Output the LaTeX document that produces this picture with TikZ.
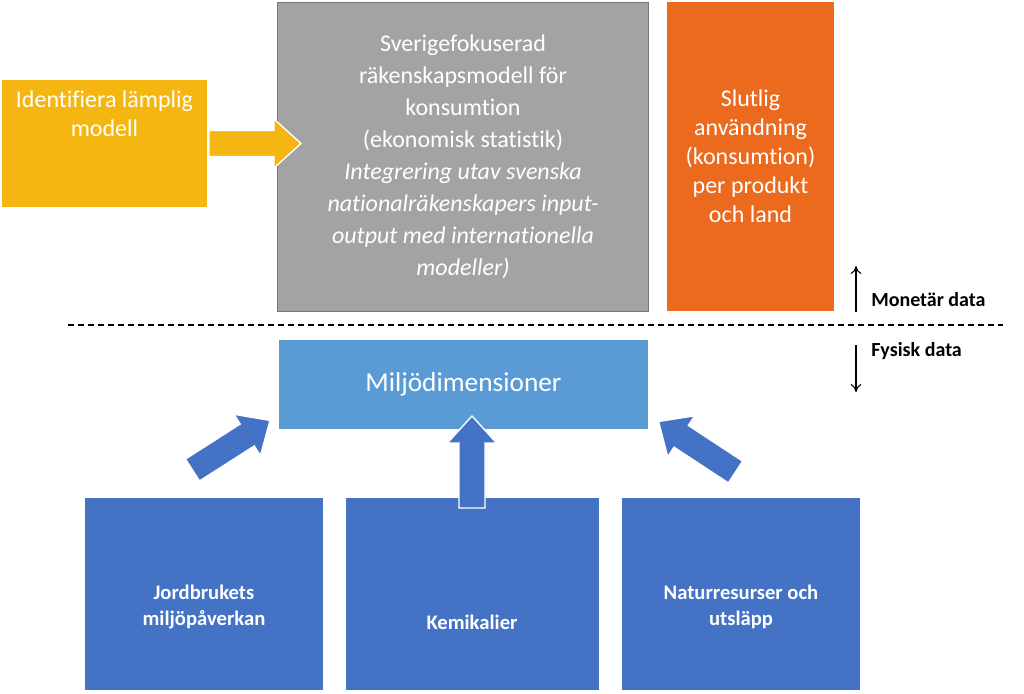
\documentclass[tikz,border=0pt]{standalone}
\usepackage{fontspec}
\setmainfont{Carlito}[Ligatures={NoCommon}]
\usetikzlibrary{arrows.meta}
\definecolor{yel}{RGB}{245,182,18}
\definecolor{gry}{RGB}{163,163,163}
\definecolor{gryb}{RGB}{120,120,120}
\definecolor{ora}{RGB}{236,106,30}
\definecolor{lblue}{RGB}{91,155,213}
\definecolor{dblue}{RGB}{68,114,196}
\tikzset{
  box/.style={rectangle, inner sep=0pt, text=white, align=center},
  bigtxt/.style={font=\fontsize{18pt}{21.75pt}\selectfont},
  btxt/.style={font=\bfseries\fontsize{15.5pt}{19.5pt}\selectfont, text=white, align=center},
  side/.style={font=\bfseries\fontsize{15pt}{18pt}\selectfont, anchor=west, inner sep=0pt},
  thinarrow/.style={-{To[length=6pt,width=8pt]}, line width=0.8pt},
  barrow/.pic={\filldraw[pic actions] (0,-13) -- (65,-13) -- (65,-24.5) -- (92,0) -- (65,24.5) -- (65,13) -- (0,13) -- cycle;},
}
\begin{document}
\begin{tikzpicture}[x=0.75pt,y=-0.75pt]
\useasboundingbox (0,0) rectangle (1024,693);
% yellow box
\node[box, fill=yel, minimum width=205*0.75pt, minimum height=127*0.75pt] (ident) at (104.5,143.5) {};
\node[box, bigtxt, anchor=north] (identtxt) at (104.5,91) {Identifiera lämplig\\modell};
% gray box
\node[box, fill=gry, draw=gryb, line width=0.8pt, minimum width=371*0.75pt, minimum height=309*0.75pt,
      font=\fontsize{18pt}{24pt}\selectfont] (gray) at (463,157)
  {Sverigefokuserad\\räkenskapsmodell för\\konsumtion\\(ekonomisk statistik)\\
   \itshape Integrering utav svenska\\\itshape nationalräkenskapers input-\\\itshape output med internationella\\\itshape modeller)};
% orange box
\node[box, fill=ora, bigtxt, minimum width=167*0.75pt, minimum height=309*0.75pt] (final) at (750.5,156.5)
  {Slutlig\\användning\\(konsumtion)\\per produkt\\och land};
% yellow arrow
\pic[fill=yel, draw=white, line width=1pt] at (209,143.5) {barrow};
% divider
\coordinate (dl) at (68,325);
\coordinate (dr) at (1003,325);
\draw[dash pattern=on 4.5pt off 3pt, line width=0.9pt] (dl) -- (dr);
% monetary / physical
\coordinate (ub) at (856,312);
\coordinate (ut) at (856,266);
\coordinate (db) at (856,345);
\coordinate (dt) at (856,392);
\draw[thinarrow] (ub) -- (ut);
\draw[thinarrow] (db) -- (dt);
\node[side] (mon) at (871,300) {Monetär data};
\node[side] (fys) at (871,351) {Fysisk data};
% miljodimensioner
\node[box, fill=lblue, font=\fontsize{20.5pt}{24pt}\selectfont, minimum width=369*0.75pt, minimum height=89*0.75pt] (milj) at (463.5,384.5) {Miljödimensioner};
% bottom boxes
\node[box, fill=dblue, minimum width=238*0.75pt, minimum height=192*0.75pt] (jord) at (204,594) {};
\node[box, fill=dblue, minimum width=253*0.75pt, minimum height=192*0.75pt] (kemi) at (472,594) {};
\node[box, fill=dblue, minimum width=238*0.75pt, minimum height=192*0.75pt] (natur) at (741,594) {};
\node[btxt] (jordt) at (204,607) {Jordbrukets\\miljöpåverkan};
\node[btxt] (kemit) at (472,622) {Kemikalier};
\node[btxt] (naturt) at (741,607) {Naturresurser och\\utsläpp};
% block arrows
\pic[fill=dblue, draw=white, line width=1pt, rotate=32.6] at (192.5,470) {barrow};
\pic[fill=dblue, draw=white, line width=1pt, rotate=90] at (472,508) {barrow};
\pic[fill=dblue, draw=white, line width=1pt, rotate=146.7] at (735.5,472) {barrow};
\end{tikzpicture}
\end{document}
